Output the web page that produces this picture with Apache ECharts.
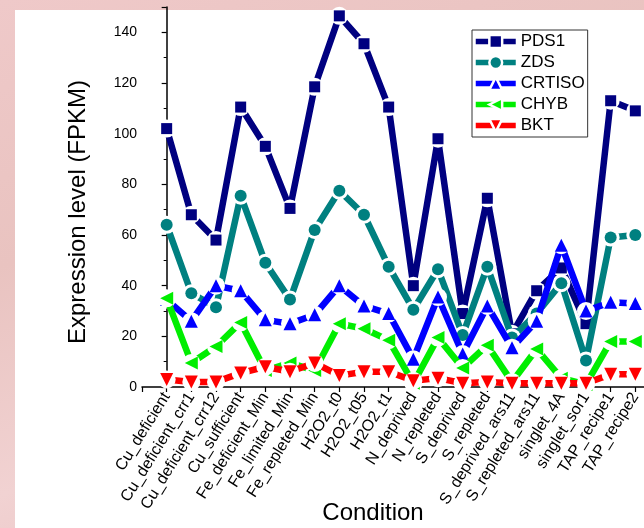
<!DOCTYPE html>
<html>
<head>
<meta charset="utf-8">
<script src="https://cdn.jsdelivr.net/npm/echarts@6/dist/echarts.min.js"></script>
<style>
  html, body { margin: 0; padding: 0; }
  body { width: 644px; height: 528px; position: relative; overflow: hidden;
         background: linear-gradient(160deg, #efc9c9, #e9c3c0 35%, #f1d2d2 65%, #e6bcbc); }
  #panel { position: absolute; left: 15px; top: 10px; right: 0; bottom: 0; background: #fff; }
  #main { position: absolute; left: 0; top: 0; width: 644px; height: 528px; }
</style>
</head>
<body>
<div id="panel"></div>
<div id="main"></div>
<script>
const categories = ['Cu_deficient', 'Cu_deficient_crr1', 'Cu_deficient_crr12', 'Cu_sufficient',
    'Fe_deficient_Min', 'Fe_limited_Min', 'Fe_repleted_Min', 'H2O2_t0', 'H2O2_t05', 'H2O2_t1',
    'N_deprived', 'N_repleted', 'S_deprived', 'S_repleted', 'S_deprived_ars11', 'S_repleted_ars11',
    'singlet_4A', 'singlet_sor1', 'TAP_recipe1', 'TAP_recipe2']
const pds1 = [102, 68, 58, 110.5, 95, 70.5, 118.5, 146.5, 135.5, 110.5, 40, 98, 29, 74.5, 21, 38, 47, 25, 113, 109]
const zds = [64, 37, 31.5, 75.5, 49, 34.5, 62, 77.5, 68, 47.5, 30.5, 46.5, 20.5, 47.5, 19.5, 29, 41, 10.5, 59, 60]
const crtiso = [34.5, 26, 40, 38, 26.5, 25, 28.5, 40, 32, 29, 11, 35.5, 13, 32, 15.5, 26, 56, 30, 33.5, 33]
const chyb = [35, 9.5, 16, 25.5, 6.5, 9.5, 6.5, 25, 23, 18.5, 1.5, 19.5, 7.5, 16.5, 2, 15, 3.5, 1, 18, 18]
const bkt = [3, 2, 2, 5.5, 8, 6, 9.5, 4.5, 6, 6, 2.5, 3.5, 1.5, 2, 1.5, 1.5, 1.5, 1.5, 5, 5]

const font = "'Liberation Sans', Arial, sans-serif"

// each gene: thick line, white disc (the gap around the symbol), then the symbol
// k is the drawing order, so later genes sit on top of earlier ones
const makeSeries = (k, name, values, color, symbol, size, rotate) => {
    const data = values.map((v, i) => [i, v])
    return [{
        name: name,
        type: 'line',
        z: 10 + 3 * k,
        data: data,
        symbol: symbol,
        symbolRotate: rotate,
        showSymbol: false,
        lineStyle: { width: 6.5, color: color, cap: 'butt' },
        itemStyle: { color: color },
        emphasis: { disabled: true }
    }, {
        name: name,
        type: 'scatter',
        z: 11 + 3 * k,
        data: data,
        symbol: 'circle',
        symbolSize: 18,
        itemStyle: { color: '#fff', opacity: 1 },
        emphasis: { disabled: true },
        silent: true
    }, {
        name: name,
        type: 'scatter',
        z: 12 + 3 * k,
        data: data,
        symbol: symbol,
        symbolSize: size,
        symbolRotate: rotate,
        itemStyle: { color: color, opacity: 1 },
        emphasis: { disabled: true }
    }]
}

const myChart = echarts.init(document.getElementById('main'))
const option = {
    animation: false,
    backgroundColor: 'transparent',
    textStyle: { fontFamily: font },
    grid: { left: 142, top: 7, bottom: 141, right: -16, outerBoundsMode: 'none' },
    legend: {
        orient: 'vertical',
        left: 472, top: 30,
        z: 50,
        padding: [3, 3, 3, 1],
        itemGap: 4,
        itemWidth: 40, itemHeight: 16,
        borderColor: '#333', borderWidth: 1,
        backgroundColor: '#fff',
        textStyle: { fontSize: 17, color: '#000', fontFamily: font },
        lineStyle: { width: 5.5 },
        itemStyle: { borderColor: '#fff', borderWidth: 2.5 },
        data: ['PDS1', 'ZDS', 'CRTISO', 'CHYB', 'BKT']
    },
    xAxis: {
        type: 'value',
        min: -1, max: 20, interval: 1,
        name: 'Condition',
        nameLocation: 'middle',
        nameGap: 114,
        nameMoveOverlap: false,
        nameTextStyle: { fontSize: 24, color: '#000', padding: [0, 56, 0, 0] },
        splitLine: { show: false },
        axisLine: { lineStyle: { color: '#000', width: 1.5 } },
        axisTick: { length: 5, lineStyle: { color: '#000', width: 1.2 } },
        axisLabel: {
            rotate: 58, fontSize: 16, color: '#000', margin: 7,
            formatter: v => categories[v] || ''
        }
    },
    yAxis: {
        type: 'value',
        min: 0, max: 150, interval: 20,
        name: 'Expression level (FPKM)',
        nameLocation: 'middle',
        nameGap: 52,
        nameMoveOverlap: false,
        nameTextStyle: { fontSize: 24, color: '#000', padding: [0, 30, 0, 0] },
        splitLine: { show: false },
        axisLine: { show: true, lineStyle: { color: '#000', width: 1.5 } },
        axisTick: { show: true, length: 5, lineStyle: { color: '#000', width: 1.2 } },
        minorTick: { show: true, splitNumber: 2, length: 3, lineStyle: { color: '#000', width: 1 } },
        axisLabel: { fontSize: 14, color: '#000', margin: 5, showMaxLabel: false }
    },
    series: [].concat(
        makeSeries(0, 'PDS1', pds1, '#000080', 'rect', 11, 0),
        makeSeries(1, 'ZDS', zds, '#008080', 'circle', 12, 0),
        makeSeries(2, 'CRTISO', crtiso, '#0000ff', 'triangle', 13, 0),
        makeSeries(3, 'CHYB', chyb, '#00ee00', 'triangle', 13, 90),
        makeSeries(4, 'BKT', bkt, '#ff0000', 'triangle', 13, 180)
    )
}
myChart.setOption(option)
</script>
</body>
</html>
